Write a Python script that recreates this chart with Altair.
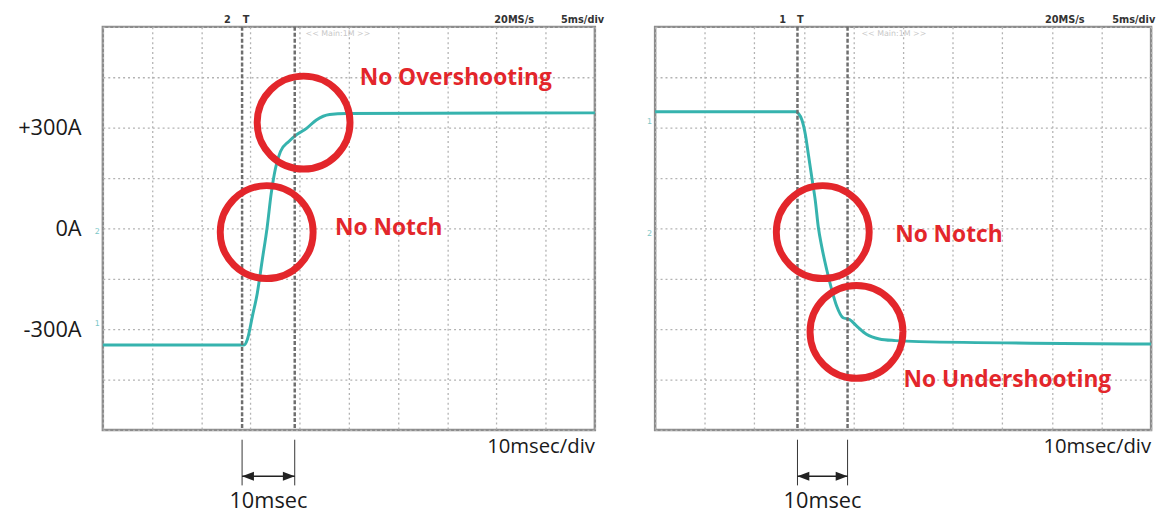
import altair as alt
import pandas as pd

# ---------------- data read from the two scope screens ----------------
# time in ms (10 ms/div, 10 div), current in A (150 A/div, 8 div)
left_t = [0, 28.7, 29.4, 30.4, 31.4, 32.4, 33.4, 34.2, 35.1, 36.1, 37.8, 39.4, 41.4, 43.4, 46.1, 49.5, 100]
left_i = [-347, -347, -329, -261, -192, -94, 4, 102, 180, 229, 259, 279, 298, 323, 339, 342, 344]

right_t = [0, 28.5, 28.9, 29.6, 30.3, 30.9, 31.6, 32.3, 32.9, 33.6, 34.6, 35.6, 36.6, 37.9, 39.2, 40.6, 42.6, 45.2, 48.5, 53.2, 100]
right_i = [347, 347, 342, 323, 279, 220, 151, 82, 4, -55, -123, -182, -231, -266, -271, -290, -315, -329, -334, -337, -344]

grid_t = [0, 10, 20, 30, 40, 50, 60, 70, 80, 90, 100]
grid_i = [-600, -450, -300, -150, 0, 150, 300, 450, 600]

left_cursors = [28.3, 39.0]
right_cursors = [28.7, 38.8]

left_circle_t = [40.8, 33.3]
left_circle_i = [315, -11]
right_circle_t = [33.8, 40.6]
right_circle_i = [-11, -308]

left_notes = ["No Overshooting", "No Notch"]
left_notes_t = [52.2, 47.2]
left_notes_i = [426, -21]
right_notes = ["No Notch", "No Undershooting"]
right_notes_t = [48.4, 50.1]
right_notes_i = [-40, -471]

left_head = ["2", "T", "20MS/s", "5ms/div"]
left_head_t = [25.3, 29.1, 83.6, 97.5]
right_head = ["1", "T", "20MS/s", "5ms/div"]
right_head_t = [25.7, 29.3, 82.6, 96.5]
head_i = 612

main_label = "<< Main:1M >>"
left_main_t = 41.2
right_main_t = 41.6
main_i = 574

left_marks = ["2", "1"]
left_marks_i = [-12, -285]
right_marks = ["1", "2"]
right_marks_i = [318, -18]

span_label = "10msec"
div_label = "10msec/div"

FONT = "Open Sans"
TRACE = "#36b3ae"
RED = "#e3262b"


def panel(t, i, cursors, circ_t, circ_i, notes, notes_t, notes_i,
          head, head_t, main_t, marks, marks_i, show_labels, width):
    tr = pd.DataFrame({"t": t, "i": i})
    xs = alt.Scale(domain=[0, 100], nice=False, zero=False)
    ys = alt.Scale(domain=[-600, 600], nice=False, zero=False)
    xaxis = alt.Axis(values=grid_t, grid=True, labels=False, ticks=False, domain=False,
                     title=None, gridDash=[2, 3], gridColor="#b3b3b3", gridWidth=1.3)
    if show_labels:
        yaxis = alt.Axis(values=grid_i, grid=True, ticks=False, domain=False, title=None,
                         gridDash=[2, 3], gridColor="#b3b3b3", gridWidth=1.3,
                         labelExpr="datum.value == 300 ? '+300A' : datum.value == 0 ? '0A' : datum.value == -300 ? '-300A' : ''",
                         labelFont=FONT, labelFontSize=22, labelColor="#1a1a1a",
                         labelPadding=22, labelOverlap=False, labelBound=False,
                         labelBaseline="middle")
    else:
        yaxis = alt.Axis(values=grid_i, grid=True, ticks=False, domain=False, title=None,
                         labels=False, gridDash=[2, 3], gridColor="#b3b3b3", gridWidth=1.3)

    X = lambda f: alt.X(f, scale=xs, axis=xaxis)
    Y = lambda f: alt.Y(f, scale=ys, axis=yaxis)

    trace = alt.Chart(tr).mark_line(color=TRACE, strokeWidth=3, interpolate="monotone").encode(
        x=X("t:Q"), y=Y("i:Q"),
    )

    cur = pd.DataFrame({"t": cursors})
    cursor_rules = alt.Chart(cur).mark_rule(color="#6e6e6e", strokeWidth=2.5, strokeDash=[4, 2]).encode(
        x=X("t:Q"), y=alt.value(0), y2=alt.value(408)
    )

    circ = pd.DataFrame({"t": circ_t, "i": circ_i})
    circles = alt.Chart(circ).mark_point(shape="circle", filled=False, size=8836,
                                         stroke=RED, strokeWidth=7, opacity=1).encode(
        x=X("t:Q"), y=Y("i:Q")
    )

    nt = pd.DataFrame({"txt": notes, "t": notes_t, "i": notes_i})
    note_text = alt.Chart(nt).mark_text(font=FONT, fontWeight="bold", fontSize=23, color=RED,
                                        align="left", baseline="alphabetic").encode(
        x=X("t:Q"), y=Y("i:Q"), text="txt:N"
    )

    hd = pd.DataFrame({"txt": head, "t": head_t, "i": [head_i] * len(head)})
    head_text = alt.Chart(hd).mark_text(font="DejaVu Sans Condensed", fontWeight="bold", fontSize=11,
                                        color="#333333", align="center", baseline="alphabetic").encode(
        x=X("t:Q"), y=Y("i:Q"), text="txt:N"
    )

    mn = pd.DataFrame({"txt": [main_label], "t": [main_t], "i": [main_i]})
    main_text = alt.Chart(mn).mark_text(font="DejaVu Sans", fontSize=8, color="#c8c8c8",
                                        align="left", baseline="alphabetic").encode(
        x=X("t:Q"), y=Y("i:Q"), text="txt:N"
    )

    mk = pd.DataFrame({"txt": marks, "t": [-0.6] * len(marks), "i": marks_i})
    mark_text = alt.Chart(mk).mark_text(font="DejaVu Sans", fontSize=8, color="#7cc7c7",
                                        align="right", baseline="middle").encode(
        x=X("t:Q"), y=Y("i:Q"), text="txt:N"
    )

    # dimension annotation below the screen
    ends = pd.DataFrame({"t": cursors, "lo": [-765, -765], "hi": [-629, -629]})
    ext = alt.Chart(ends).mark_rule(color="#333333", strokeWidth=1).encode(
        x=X("t:Q"), y=Y("lo:Q"), y2="hi:Q"
    )
    arr = pd.DataFrame({"a": [cursors[0]], "b": [cursors[1]], "i": [-738]})
    arrow_line = alt.Chart(arr).mark_rule(color="#222222", strokeWidth=1.5).encode(
        x=X("a:Q"), x2="b:Q", y=Y("i:Q")
    )
    head_l = alt.Chart(pd.DataFrame({"t": [cursors[0]], "i": [-738]})).mark_point(
        shape="M0,0L2,-0.75L2,0.75Z", filled=True, size=144, color="#222222", opacity=1
    ).encode(x=X("t:Q"), y=Y("i:Q"))
    head_r = alt.Chart(pd.DataFrame({"t": [cursors[1]], "i": [-738]})).mark_point(
        shape="M0,0L-2,-0.75L-2,0.75Z", filled=True, size=144, color="#222222", opacity=1
    ).encode(x=X("t:Q"), y=Y("i:Q"))

    sp = pd.DataFrame({"txt": [span_label], "t": [(cursors[0] + cursors[1]) / 2], "i": [-832]})
    span_text = alt.Chart(sp).mark_text(font=FONT, fontSize=22, color="#1a1a1a",
                                        align="center", baseline="alphabetic").encode(
        x=X("t:Q"), y=Y("i:Q"), text="txt:N"
    )
    dv = pd.DataFrame({"txt": [div_label], "t": [100], "i": [-668]})
    div_text = alt.Chart(dv).mark_text(font=FONT, fontSize=20.5, color="#1a1a1a",
                                       align="right", baseline="alphabetic").encode(
        x=X("t:Q"), y=Y("i:Q"), text="txt:N"
    )

    return alt.layer(
        trace, cursor_rules, circles, note_text, head_text, main_text, mark_text,
        ext, arrow_line, head_l, head_r, span_text, div_text
    ).properties(width=width, height=408)


left = panel(left_t, left_i, left_cursors, left_circle_t, left_circle_i,
             left_notes, left_notes_t, left_notes_i, left_head, left_head_t,
             left_main_t, left_marks, left_marks_i, True, 498)
right = panel(right_t, right_i, right_cursors, right_circle_t, right_circle_i,
              right_notes, right_notes_t, right_notes_i, right_head, right_head_t,
              right_main_t, right_marks, right_marks_i, False, 502)

chart = alt.hconcat(left, right, spacing=61, bounds="flush").properties(
    padding={"left": 8, "top": 1, "right": 0, "bottom": 0},
    background="white",
).configure_view(stroke="#8c8c8c", strokeWidth=2.5)

chart.save("out.html", embed_options={"renderer": "svg", "actions": False})
